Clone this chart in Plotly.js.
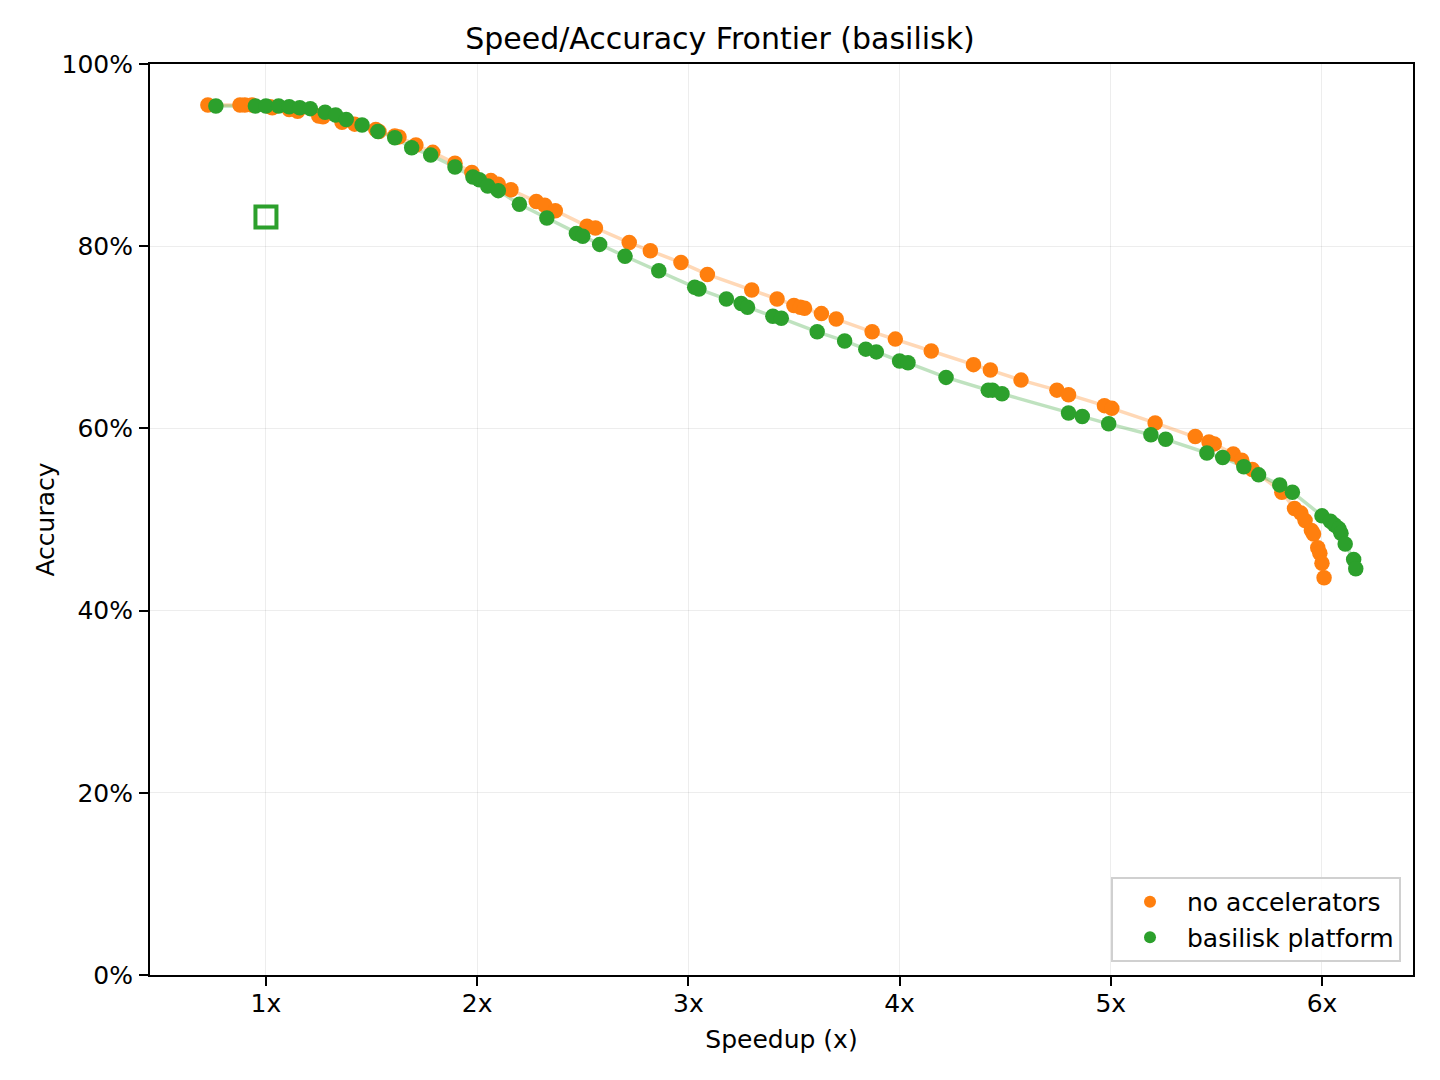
<!DOCTYPE html>
<html>
<head>
<meta charset="utf-8">
<script src="https://cdn.plot.ly/plotly-3.0.1.min.js"></script>
<style>html,body{margin:0;padding:0;background:#fff;}#chart{width:1440px;height:1080px;}</style>
</head>
<body>
<div id="chart"></div>
<script>
const speedupNoAcc = [0.725,0.877,0.90,0.934,1.02,1.03,1.11,1.15,1.25,1.27,1.36,1.42,1.52,1.535,1.61,1.63,1.71,1.79,1.895,1.975,2.065,2.10,2.16,2.28,2.32,2.37,2.52,2.56,2.72,2.82,2.965,3.09,3.30,3.42,3.50,3.53,3.55,3.63,3.70,3.87,3.98,4.15,4.35,4.43,4.575,4.745,4.80,4.97,5.005,5.21,5.40,5.465,5.49,5.58,5.62,5.67,5.81,5.87,5.90,5.92,5.95,5.96,5.98,5.99,6.00,6.01];
const accNoAcc = [95.5,95.5,95.5,95.5,95.3,95.2,95.0,94.8,94.3,94.2,93.6,93.4,92.8,92.6,92.1,92.0,91.1,90.3,89.1,88.1,87.2,86.8,86.2,84.9,84.5,83.9,82.2,82.0,80.4,79.5,78.2,76.9,75.2,74.2,73.5,73.3,73.2,72.6,72.0,70.6,69.8,68.5,67.0,66.4,65.3,64.2,63.7,62.5,62.2,60.6,59.1,58.5,58.3,57.2,56.5,55.5,53.0,51.2,50.7,49.9,48.8,48.4,46.9,46.3,45.2,43.6];

const speedupBasilisk = [0.763,0.95,1.0,1.06,1.11,1.16,1.21,1.28,1.33,1.38,1.455,1.53,1.61,1.69,1.78,1.895,1.98,2.01,2.05,2.10,2.20,2.33,2.47,2.50,2.58,2.70,2.86,3.03,3.05,3.18,3.25,3.28,3.40,3.44,3.61,3.74,3.84,3.89,4.00,4.04,4.22,4.42,4.44,4.485,4.80,4.865,4.99,5.19,5.26,5.455,5.53,5.63,5.70,5.80,5.86,6.00,6.04,6.06,6.08,6.09,6.11,6.15,6.16];
const accBasilisk = [95.4,95.4,95.4,95.4,95.3,95.2,95.1,94.7,94.4,93.9,93.3,92.6,91.9,90.8,90.0,88.7,87.6,87.3,86.6,86.1,84.6,83.1,81.4,81.1,80.2,78.9,77.3,75.5,75.3,74.2,73.7,73.3,72.3,72.1,70.6,69.6,68.7,68.4,67.4,67.2,65.6,64.2,64.2,63.8,61.7,61.3,60.5,59.3,58.8,57.3,56.8,55.8,54.9,53.8,53.0,50.4,49.8,49.4,49.0,48.5,47.3,45.6,44.6];

const baselineSpeedup = [1.0];
const baselineAcc = [83.2];

const xTickVals = [1,2,3,4,5,6];
const xTickText = ['1x','2x','3x','4x','5x','6x'];
const yTickVals = [0,20,40,60,80,100];
const yTickText = ['0%','20%','40%','60%','80%','100%'];

const orange = '#ff7f0e', green = '#2ca02c';

const traces = [
  {x: speedupNoAcc, y: accNoAcc, mode:'lines', line:{color:orange, width:3.5}, opacity:0.3, showlegend:false, hoverinfo:'skip'},
  {x: speedupBasilisk, y: accBasilisk, mode:'lines', line:{color:green, width:3.5}, opacity:0.3, showlegend:false, hoverinfo:'skip'},
  {x: speedupNoAcc, y: accNoAcc, mode:'markers', name:'no accelerators', marker:{color:orange, size:15.5}},
  {x: speedupBasilisk, y: accBasilisk, mode:'markers', name:'basilisk platform', marker:{color:green, size:15.5}},
  {x: baselineSpeedup, y: baselineAcc, mode:'markers', showlegend:false, marker:{symbol:'square-open', color:green, size:21, line:{width:4, color:green}}}
];

const axisCommon = {
  showline:true, linecolor:'#000', linewidth:2, mirror:true,
  ticks:'outside', ticklen:9, tickwidth:2, tickcolor:'#000',
  showgrid:true, gridcolor:'rgba(0,0,0,0.07)', gridwidth:1,
  zeroline:false,
  tickfont:{family:'DejaVu Sans', size:25, color:'#000'}
};

const layout = {
  width:1440, height:1080,
  paper_bgcolor:'#fff', plot_bgcolor:'#fff',
  margin:{l:150, r:27, t:64, b:105},
  font:{family:'DejaVu Sans', color:'#000'},
  title:{text:'Speed/Accuracy Frontier (basilisk)', font:{family:'DejaVu Sans', size:30, color:'#000'}, x:0.5, xanchor:'center', y:0.964, yanchor:'middle'},
  xaxis: Object.assign({}, axisCommon, {
    range:[0.451, 6.431], tickvals:xTickVals, ticktext:xTickText,
    ticklabelstandoff:-4,
    title:{text:'Speedup (x)', font:{family:'DejaVu Sans', size:25, color:'#000'}, standoff:13}
  }),
  yaxis: Object.assign({}, axisCommon, {
    range:[0, 100], tickvals:yTickVals, ticktext:yTickText,
    ticklabelstandoff:1,
    title:{text:'Accuracy', font:{family:'DejaVu Sans', size:25, color:'#000'}, standoff:0}
  }),
  legend:{
    x:0.9905, y:0.0143, xanchor:'right', yanchor:'bottom',
    bgcolor:'rgba(255,255,255,0.8)', bordercolor:'#d0d0d0', borderwidth:2,
    font:{family:'DejaVu Sans', size:25, color:'#000'},
    itemsizing:'constant', itemwidth:64, tracegroupgap:0
  },
  showlegend:true
};

Plotly.newPlot('chart', traces, layout, {displayModeBar:false, staticPlot:true});
</script>
</body>
</html>
